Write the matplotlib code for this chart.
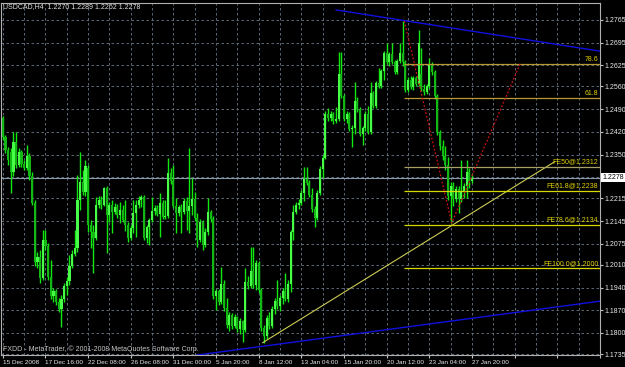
import numpy as np
import matplotlib
matplotlib.use('Agg')
import matplotlib.pyplot as plt


# USDCAD H4 candles (one value per bar)
opens = [
    1.2463, 1.2404, 1.2364, 1.2358, 1.2296, 1.2389, 1.2318, 1.2358, 1.2321, 1.2309,
    1.2346, 1.2284, 1.2201, 1.2019, 1.2034, 1.1969, 1.2087, 1.2068, 1.1973, 1.1914,
    1.1929, 1.1895, 1.1874, 1.1905, 1.1945, 1.1960, 1.2006, 1.2044, 1.2062, 1.2210,
    1.2266, 1.2235, 1.2309, 1.2133, 1.2111, 1.2093, 1.2195, 1.2210, 1.2195, 1.2247,
    1.2164, 1.2195, 1.2173, 1.2188, 1.2164, 1.2179, 1.2148, 1.2133, 1.2093, 1.2124,
    1.2170, 1.2195, 1.2210, 1.2219, 1.2093, 1.2127, 1.2148, 1.2176, 1.2185, 1.2167,
    1.2201, 1.2158, 1.2161, 1.2293, 1.2269, 1.2191, 1.2170, 1.2188, 1.2173, 1.2207,
    1.2176, 1.2191, 1.2213, 1.2154, 1.2087, 1.2142, 1.2071, 1.2111, 1.2173, 1.2151,
    1.1914, 1.1929, 1.1895, 1.1951, 1.1877, 1.1825, 1.1855, 1.1821, 1.1849, 1.1812,
    1.1837, 1.1809, 1.1957, 1.1945, 1.1991, 1.1948, 1.2016, 1.1932, 1.1815, 1.1791,
    1.1846, 1.1821, 1.1874, 1.1899, 1.1883, 1.1908, 1.1929, 1.1905, 1.1951, 1.2111,
    1.2173, 1.2195, 1.2201, 1.2232, 1.2275, 1.2262, 1.2225, 1.2182, 1.2154, 1.2232,
    1.2306, 1.2340, 1.2475, 1.2463, 1.2475, 1.2454, 1.2460, 1.2599, 1.2531, 1.2460,
    1.2475, 1.2429, 1.2432, 1.2515, 1.2491, 1.2414, 1.2432, 1.2475, 1.2420, 1.2540,
    1.2500, 1.2571, 1.2562, 1.2608, 1.2663, 1.2636, 1.2660, 1.2636, 1.2605, 1.2639,
    1.2663, 1.2636, 1.2549, 1.2580, 1.2558, 1.2586, 1.2568, 1.2599, 1.2552, 1.2543,
    1.2562, 1.2629, 1.2605, 1.2531, 1.2420, 1.2377, 1.2346, 1.2318, 1.2222, 1.2253,
    1.2213, 1.2244, 1.2213, 1.2238, 1.2253, 1.2296, 1.2270,
]
highs = [
    1.2469, 1.2410, 1.2373, 1.2370, 1.2420, 1.2420, 1.2370, 1.2364, 1.2333, 1.2380,
    1.2355, 1.2296, 1.2210, 1.2050, 1.2056, 1.2117, 1.2117, 1.2077, 1.2025, 1.1939,
    1.1936, 1.1908, 1.1917, 1.1954, 1.1973, 1.2040, 1.2056, 1.2117, 1.2287, 1.2358,
    1.2303, 1.2333, 1.2318, 1.2148, 1.2133, 1.2219, 1.2222, 1.2222, 1.2250, 1.2253,
    1.2204, 1.2210, 1.2201, 1.2198, 1.2204, 1.2195, 1.2210, 1.2142, 1.2133, 1.2210,
    1.2210, 1.2222, 1.2225, 1.2225, 1.2133, 1.2154, 1.2219, 1.2195, 1.2195, 1.2232,
    1.2210, 1.2210, 1.2340, 1.2309, 1.2318, 1.2216, 1.2195, 1.2198, 1.2216, 1.2219,
    1.2370, 1.2278, 1.2235, 1.2170, 1.2151, 1.2148, 1.2124, 1.2216, 1.2179, 1.2161,
    1.1936, 1.1936, 1.2003, 1.1963, 1.1908, 1.1865, 1.1862, 1.1858, 1.1852, 1.1846,
    1.1840, 1.2000, 1.1976, 1.2065, 1.2065, 1.2025, 1.2022, 1.1939, 1.1825, 1.1855,
    1.1865, 1.1883, 1.1908, 1.1963, 1.1917, 1.1939, 1.1985, 1.1963, 1.2117, 1.2195,
    1.2204, 1.2213, 1.2241, 1.2312, 1.2312, 1.2272, 1.2247, 1.2191, 1.2241, 1.2315,
    1.2349, 1.2484, 1.2494, 1.2484, 1.2481, 1.2497, 1.2666, 1.2666, 1.2537, 1.2484,
    1.2481, 1.2441, 1.2574, 1.2528, 1.2497, 1.2438, 1.2484, 1.2500, 1.2574, 1.2546,
    1.2577, 1.2617, 1.2614, 1.2669, 1.2694, 1.2666, 1.2694, 1.2642, 1.2645, 1.2694,
    1.2762, 1.2642, 1.2589, 1.2592, 1.2592, 1.2592, 1.2734, 1.2679, 1.2568, 1.2568,
    1.2648, 1.2636, 1.2611, 1.2537, 1.2426, 1.2395, 1.2377, 1.2343, 1.2266, 1.2266,
    1.2253, 1.2253, 1.2333, 1.2262, 1.2333, 1.2309, 1.2289,
]
lows = [
    1.2395, 1.2355, 1.2318, 1.2232, 1.2284, 1.2309, 1.2312, 1.2312, 1.2303, 1.2303,
    1.2272, 1.2195, 1.2006, 1.2000, 1.1954, 1.1963, 1.2056, 1.1963, 1.1905, 1.1895,
    1.1886, 1.1865, 1.1818, 1.1895, 1.1917, 1.1948, 1.2000, 1.2037, 1.2050, 1.2179,
    1.2225, 1.2222, 1.2111, 1.2062, 1.1985, 1.2087, 1.2185, 1.2182, 1.2191, 1.2047,
    1.2142, 1.2108, 1.2167, 1.2154, 1.2139, 1.2142, 1.2114, 1.2080, 1.2087, 1.2108,
    1.2096, 1.2185, 1.2188, 1.2087, 1.2077, 1.2071, 1.2142, 1.2164, 1.2161, 1.2096,
    1.2151, 1.2151, 1.2154, 1.2259, 1.2185, 1.2108, 1.2161, 1.2108, 1.2167, 1.2117,
    1.2108, 1.2164, 1.2145, 1.2065, 1.2080, 1.2056, 1.2065, 1.2102, 1.2142, 1.1905,
    1.1871, 1.1886, 1.1889, 1.1868, 1.1815, 1.1806, 1.1812, 1.1815, 1.1803, 1.1797,
    1.1772, 1.1803, 1.1936, 1.1939, 1.1939, 1.1932, 1.1923, 1.1806, 1.1769, 1.1781,
    1.1812, 1.1815, 1.1858, 1.1874, 1.1868, 1.1889, 1.1899, 1.1895, 1.1926, 1.2087,
    1.2167, 1.2182, 1.2195, 1.2207, 1.2256, 1.2219, 1.2173, 1.2127, 1.2148, 1.2225,
    1.2278, 1.2336, 1.2454, 1.2454, 1.2444, 1.2447, 1.2454, 1.2525, 1.2454, 1.2447,
    1.2423, 1.2373, 1.2414, 1.2481, 1.2407, 1.2380, 1.2423, 1.2414, 1.2414, 1.2494,
    1.2494, 1.2555, 1.2555, 1.2580, 1.2629, 1.2623, 1.2629, 1.2599, 1.2599, 1.2632,
    1.2623, 1.2543, 1.2543, 1.2552, 1.2549, 1.2562, 1.2562, 1.2546, 1.2534, 1.2537,
    1.2555, 1.2595, 1.2521, 1.2410, 1.2364, 1.2333, 1.2303, 1.2210, 1.2139, 1.2191,
    1.2204, 1.2170, 1.2204, 1.2216, 1.2216, 1.2247, 1.2262,
]
closes = [
    1.2404, 1.2364, 1.2333, 1.2296, 1.2389, 1.2318, 1.2358, 1.2321, 1.2309, 1.2346,
    1.2284, 1.2201, 1.2019, 1.2034, 1.1969, 1.2087, 1.2068, 1.1973, 1.1914, 1.1929,
    1.1895, 1.1874, 1.1905, 1.1945, 1.1960, 1.2006, 1.2044, 1.2062, 1.2210, 1.2266,
    1.2235, 1.2315, 1.2133, 1.2111, 1.2093, 1.2195, 1.2210, 1.2195, 1.2247, 1.2164,
    1.2195, 1.2173, 1.2188, 1.2164, 1.2179, 1.2148, 1.2133, 1.2093, 1.2124, 1.2170,
    1.2195, 1.2210, 1.2219, 1.2093, 1.2127, 1.2148, 1.2176, 1.2185, 1.2167, 1.2201,
    1.2158, 1.2161, 1.2293, 1.2269, 1.2191, 1.2170, 1.2188, 1.2173, 1.2207, 1.2176,
    1.2191, 1.2213, 1.2154, 1.2087, 1.2142, 1.2071, 1.2111, 1.2173, 1.2151, 1.1914,
    1.1929, 1.1895, 1.1951, 1.1877, 1.1825, 1.1855, 1.1821, 1.1849, 1.1812, 1.1837,
    1.1809, 1.1957, 1.1945, 1.1991, 1.1948, 1.2016, 1.1932, 1.1815, 1.1791, 1.1846,
    1.1821, 1.1874, 1.1899, 1.1883, 1.1908, 1.1929, 1.1905, 1.1951, 1.2111, 1.2173,
    1.2195, 1.2201, 1.2232, 1.2275, 1.2262, 1.2225, 1.2182, 1.2154, 1.2232, 1.2306,
    1.2340, 1.2475, 1.2463, 1.2475, 1.2454, 1.2460, 1.2599, 1.2531, 1.2460, 1.2475,
    1.2429, 1.2432, 1.2515, 1.2491, 1.2414, 1.2432, 1.2475, 1.2420, 1.2540, 1.2500,
    1.2571, 1.2562, 1.2608, 1.2663, 1.2636, 1.2660, 1.2636, 1.2605, 1.2639, 1.2663,
    1.2636, 1.2549, 1.2580, 1.2558, 1.2586, 1.2568, 1.2694, 1.2552, 1.2543, 1.2562,
    1.2629, 1.2605, 1.2531, 1.2420, 1.2377, 1.2346, 1.2318, 1.2222, 1.2253, 1.2213,
    1.2244, 1.2213, 1.2238, 1.2253, 1.2296, 1.2269, 1.2278,
]

# time axis labels (one every 16 bars) and price scale
date_labels = ["15 Dec 2008", "17 Dec 16:00", "22 Dec 08:00", "26 Dec 08:00",
               "31 Dec 00:00", "5 Jan 20:00", "8 Jan 12:00", "13 Jan 04:00",
               "15 Jan 20:00", "20 Jan 12:00", "23 Jan 04:00", "27 Jan 20:00"]
price_ticks = [1.2765, 1.2695, 1.2625, 1.2560, 1.2490, 1.2420, 1.2350, 1.2280,
               1.2215, 1.2145, 1.2075, 1.2010, 1.1940, 1.1870, 1.1800, 1.1735]
last_price = 1.2278

# drawn objects: (bar, price) anchor points
top_channel = ([125, 224], [1.2796, 1.2669])
bottom_channel = ([73, 224], [1.1732, 1.1898])
support_line = ([97.5, 207], [1.1770, 1.2328])
zigzag = ([150.6, 168.4, 194], [1.2762, 1.2139, 1.2629])

# fibo retracement and fibo expansion levels
fib_start = 150.5
retr_names = ["61.8", "78.6"]
retr_prices = [1.2524, 1.2628]
fe_names = ["FE50@1.2312", "FE61.8@1.2238", "FE78.6@1.2134", "FE100.0@1.2000"]
fe_prices = [1.2312, 1.2238, 1.2134, 1.2000]

W, H = 625, 367
FS = 5.0
plt.rcParams['font.family'] = ['Liberation Sans', 'DejaVu Sans']

fig = plt.figure(figsize=(W / 100, H / 100), dpi=100, facecolor='black')
ax = fig.add_axes([1 / W, 1 - 355.3 / H, 599 / W, 352.3 / H])
ax.set_facecolor('black')

n = len(closes)
x = np.arange(n)
o = np.array(opens)
c = np.array(closes)
up = c >= o

# wicks then bodies
ax.vlines(x, lows, highs, color='#10e810', linewidth=1.0, zorder=3)
body_lo = np.minimum(o, c)
body_h = np.maximum(np.abs(c - o), 0.00012)
ax.bar(x[up], body_h[up], bottom=body_lo[up], width=0.85,
       color='#48ff48', linewidth=0, zorder=4)
ax.bar(x[~up], body_h[~up], bottom=body_lo[~up], width=0.85,
       color='#14b814', linewidth=0, zorder=4)

# trend lines
ax.plot(*top_channel, color='#1010e0', linewidth=1.0, zorder=5)
ax.plot(*bottom_channel, color='#1010e0', linewidth=1.0, zorder=5)
ax.plot(*support_line, color='#cccc55', linewidth=0.8, zorder=5)
ax.plot(*zigzag, color='#cc1111', linewidth=0.9, linestyle=(0, (1.5, 1.5)), zorder=6)

# last price line
ax.axhline(last_price, color='#8899aa', linewidth=0.8, zorder=2)

# fibo lines and labels
x_right = 224
for name, p in zip(retr_names, retr_prices):
    ax.hlines(p, fib_start, x_right, color='#b89a30', linewidth=0.9, zorder=5)
    ax.text(223.3, p + 0.0004, name, color='#e0d000', fontsize=FS,
            ha='right', va='bottom', zorder=7)
for i, (name, p) in enumerate(zip(fe_names, fe_prices)):
    col = '#a8a060' if i == 0 else '#d8d800'
    ax.hlines(p, fib_start, x_right, color=col, linewidth=0.9, zorder=5)
    ax.text(223.3, p + 0.0004, name, color='#e0d000', fontsize=FS,
            ha='right', va='bottom', zorder=7)

ax.set_xlim(-0.64, 224.0)
ax.set_ylim(1.17311, 1.28174)

# grid: vertical every 8 bars, horizontal at the price scale
ax.set_xticks(np.arange(0, 225, 16))
ax.set_xticks(np.arange(8, 225, 16), minor=True)
labels = date_labels + [''] * (len(ax.get_xticks()) - len(date_labels))
ax.set_xticklabels(labels, ha='left', fontsize=4.6, color='#e8e8e8')
ax.yaxis.tick_right()
ax.set_yticks(price_ticks)
ax.set_yticklabels(['' if abs(t - 1.2280) < 1e-6 else '%.4f' % t for t in price_ticks],
                   fontsize=FS, color='#e8e8e8')
ax.grid(True, which='both', color='#6a7888', linestyle=(0, (3, 3)), linewidth=0.6, zorder=1)
ax.tick_params(axis='x', which='major', length=2, color='#c0c0c0', pad=1.5)
ax.tick_params(axis='x', which='minor', length=0)
ax.tick_params(axis='y', length=2, color='#c0c0c0', pad=1.5)
for s in ax.spines.values():
    s.set_color('#b0b0b0')
    s.set_linewidth(0.8)

# last price marker on the scale
ax.text(1.004, last_price, '%.4f' % last_price, transform=ax.get_yaxis_transform(),
        fontsize=FS, color='black', va='center', ha='left',
        bbox=dict(boxstyle='square,pad=0.15', facecolor='white', edgecolor='none'))

fig.text(3 / W, 1 - 6.5 / H, 'USDCAD,H4  1.2270 1.2289 1.2262 1.2278',
         fontsize=FS, color='#e0e0e0', va='center', ha='left')
fig.text(3 / W, 1 - 349 / H, 'FXDD - MetaTrader, \u00a9 2001-2008 MetaQuotes Software Corp.',
         fontsize=FS, color='#c8c8c8', va='center', ha='left')

fig.savefig('out.png', dpi=100, facecolor='black')
